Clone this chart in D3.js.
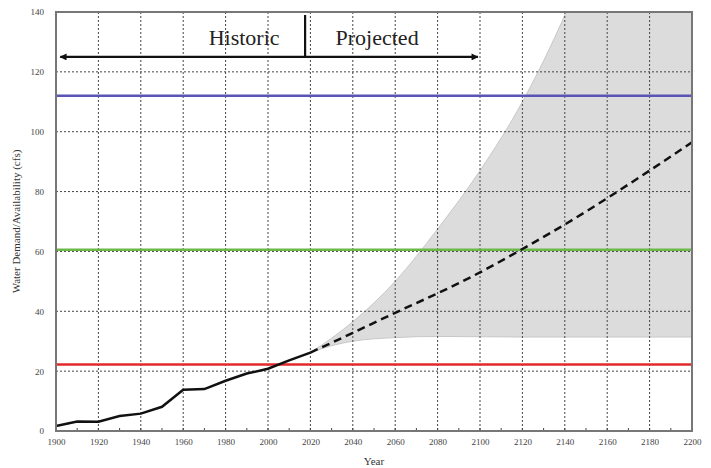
<!DOCTYPE html>
<meta charset="utf-8">
<html>
<head>
<style>
body { margin: 0; background: #fff; }
text { font-family: "Liberation Serif", "DejaVu Serif", serif; }
.tick text { font-size: 9px; fill: #444; }
.grid line { stroke: #444; stroke-width: 1; stroke-dasharray: 2,2; }
</style>
<script src="https://d3js.org/d3.v7.min.js"></script>
</head>
<body>
<svg width="711" height="468"></svg>
<script>
// historic demand
var histYears = [1900, 1910, 1920, 1930, 1940, 1950, 1960, 1970, 1980, 1990, 2000, 2010, 2020];
var histValues = [1.7, 3.2, 3.1, 5, 5.8, 8.1, 13.8, 14, 16.8, 19.2, 20.8, 23.6, 26.2];

// projected demand (median) and envelope
var midYears = [2020, 2040, 2060, 2080, 2100, 2120, 2140, 2160, 2180, 2200];
var projMid = [26.2, 32.8, 39.5, 46, 53, 60.8, 69, 77.8, 87, 96.5];
var bandYears = [2020, 2030, 2040, 2060, 2080, 2100, 2120, 2140, 2160, 2180, 2200];
var projLow = [26.2, 28.5, 30, 31.2, 31.6, 31.5, 31.4, 31.4, 31.4, 31.4, 31.4];
var projHigh = [26.2, 31, 36.5, 50, 67.5, 87, 110, 139, 175, 215, 260];

// availability levels
var levels = [
  {value: 112, color: "#5a55b5"},
  {value: 60.6, color: "#6cb84a"},
  {value: 22.2, color: "#e22a2a"}
];

var xTicks = d3.range(1900, 2201, 20);
var yTicks = d3.range(0, 141, 20);

var svg = d3.select("svg"),
    margin = {top: 12, right: 19, bottom: 37, left: 56},
    width = 711 - margin.left - margin.right,
    height = 468 - margin.top - margin.bottom;

var g = svg.append("g")
    .attr("transform", "translate(" + margin.left + "," + margin.top + ")");

var x = d3.scaleLinear().domain([1900, 2200]).range([0, width]);
var y = d3.scaleLinear().domain([0, 140]).range([height, 0]);

g.append("clipPath").attr("id", "plot")
  .append("rect").attr("width", width).attr("height", height);

// envelope
var band = bandYears.map(function(d, i) { return {year: d, lo: projLow[i], hi: projHigh[i]}; });
g.append("path")
    .datum(band)
    .attr("clip-path", "url(#plot)")
    .attr("fill", "#dcdcdc")
    .attr("stroke", "#c8c8c8")
    .attr("d", d3.area()
      .curve(d3.curveMonotoneX)
      .x(function(d) { return x(d.year); })
      .y0(function(d) { return y(d.lo); })
      .y1(function(d) { return y(d.hi); }));

// grid
g.append("g").attr("class", "grid")
  .selectAll("line").data(xTicks.slice(1, -1)).enter().append("line")
    .attr("x1", x).attr("x2", x).attr("y1", 0).attr("y2", height);
g.append("g").attr("class", "grid")
  .selectAll("line").data(yTicks.slice(1, -1)).enter().append("line")
    .attr("y1", y).attr("y2", y).attr("x1", 0).attr("x2", width);

// availability lines
g.selectAll(".level").data(levels).enter().append("line")
    .attr("class", "level")
    .attr("x1", 0).attr("x2", width)
    .attr("y1", function(d) { return y(d.value); })
    .attr("y2", function(d) { return y(d.value); })
    .attr("stroke", function(d) { return d.color; })
    .attr("stroke-width", 2.5);

// demand lines
var line = d3.line()
    .x(function(d) { return x(d[0]); })
    .y(function(d) { return y(d[1]); });

g.append("path")
    .datum(histYears.map(function(d, i) { return [d, histValues[i]]; }))
    .attr("fill", "none")
    .attr("stroke", "#111")
    .attr("stroke-width", 2.5)
    .attr("d", line);

g.append("path")
    .datum(midYears.map(function(d, i) { return [d, projMid[i]]; }))
    .attr("fill", "none")
    .attr("stroke", "#111")
    .attr("stroke-width", 2.5)
    .attr("stroke-dasharray", "8,5")
    .attr("d", line.curve(d3.curveNatural));

// axes
var xAxis = g.append("g")
    .attr("transform", "translate(0," + height + ")")
    .call(d3.axisBottom(x).tickValues(xTicks).tickSize(0).tickPadding(8).tickFormat(d3.format("d")));
var yAxis = g.append("g")
    .call(d3.axisLeft(y).tickValues(yTicks).tickSize(0).tickPadding(12));
xAxis.select(".domain").remove();
yAxis.select(".domain").remove();

// small inner ticks
g.append("g").selectAll("line").data(d3.range(1910, 2200, 10)).enter().append("line")
    .attr("x1", x).attr("x2", x).attr("y1", height).attr("y2", height - 3)
    .attr("stroke", "#444");

// frame
g.append("rect")
    .attr("width", width).attr("height", height)
    .attr("fill", "none").attr("stroke", "#777").attr("stroke-width", 2);

// annotations
var split = 2017.5;
g.append("defs").append("marker")
    .attr("id", "arrow").attr("viewBox", "0 0 10 10")
    .attr("refX", 9).attr("refY", 5)
    .attr("markerWidth", 8).attr("markerHeight", 7)
    .attr("markerUnits", "userSpaceOnUse")
    .attr("orient", "auto-start-reverse")
  .append("path").attr("d", "M0,0L10,5L0,10z").attr("fill", "#111");

g.append("line")
    .attr("x1", x(1902)).attr("x2", x(2099))
    .attr("y1", y(125)).attr("y2", y(125))
    .attr("stroke", "#111").attr("stroke-width", 2.2)
    .attr("marker-start", "url(#arrow)").attr("marker-end", "url(#arrow)");

g.append("line")
    .attr("x1", x(split)).attr("x2", x(split))
    .attr("y1", y(139)).attr("y2", y(125))
    .attr("stroke", "#111").attr("stroke-width", 2.2);

g.append("text")
    .attr("x", x(split) - 61).attr("y", y(129))
    .attr("text-anchor", "middle").style("font-size", "22px").attr("fill", "#222")
    .text("Historic");
g.append("text")
    .attr("x", x(split) + 72).attr("y", y(129))
    .attr("text-anchor", "middle").style("font-size", "22px").attr("fill", "#222")
    .text("Projected");

// axis titles
svg.append("text")
    .attr("transform", "translate(20," + (margin.top + height / 2) + ") rotate(-90)")
    .attr("text-anchor", "middle").style("font-size", "11px").attr("fill", "#333")
    .text("Water Demand/Availability (cfs)");
svg.append("text")
    .attr("x", margin.left + width / 2).attr("y", 465)
    .attr("text-anchor", "middle").style("font-size", "11px").attr("fill", "#333")
    .text("Year");
</script>
</body>
</html>
